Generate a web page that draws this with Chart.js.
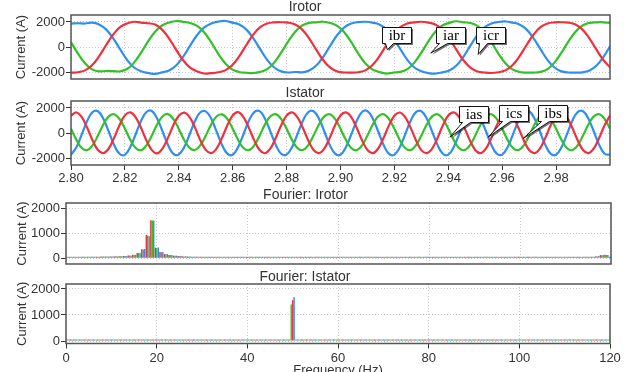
<!DOCTYPE html>
<html>
<head>
<meta charset="utf-8">
<script src="https://cdn.jsdelivr.net/npm/chart.js@4.4.0/dist/chart.umd.min.js"></script>
<style>
  html, body { margin: 0; padding: 0; background: #fff; overflow: hidden; }
  .panel { position: absolute; left: 0; }
  canvas { display: block; }
</style>
</head>
<body>
<div class="panel" style="top:0"><canvas id="irotor" width="633" height="84"></canvas></div>
<div class="panel" style="top:84px"><canvas id="istator" width="633" height="102"></canvas></div>
<div class="panel" style="top:185px"><canvas id="fftRotor" width="633" height="84"></canvas></div>
<div class="panel" style="top:268px"><canvas id="fftStator" width="633" height="110"></canvas></div>
<script>
// ---- data ----
const timeTicks = [2.80, 2.82, 2.84, 2.86, 2.88, 2.90, 2.92, 2.94, 2.96, 2.98];
const currentTicks = [-2000, 0, 2000];
const fftTicks = [0, 1000, 2000];
const freqTicks = [0, 20, 40, 60, 80, 100, 120];

// rotor currents, sampled every 2.6 ms from 2.800 s
const rotorStart = 2.8, rotorStep = 0.0026;
const icr = [410, -478, -1241, -1724, -1880, -1850, -1860, -1880, -1698, -1191, -410, 478, 1241, 1724, 1960, 2080, 2010, 1921, 1698, 1191,
  410, -478, -1241, -1724, -1930, -1990, -2010, -1921, -1698, -1191, -410, 478, 1241, 1724, 1930, 1977, 2020, 1921, 1698, 1191,
  410, -478, -1241, -1724, -1930, -2050, -1976, -1921, -1698, -1191, -410, 478, 1241, 1724, 1930, 2060, 1976, 1921, 1698, 1191,
  410, -478, -1241, -1724, -1930, -1977, -1976, -1921, -1698, -1191, -410, 478, 1241, 1724, 1930, 1977, 1976, 1921];
const ibr = [1878, 1900, 1880, 1955, 1812, 1422, 734, -139, -976, -1576, -1878, -2000, -2080, -1955, -1812, -1422, -734, 139, 976, 1576,
  1878, 2030, 2080, 1955, 1812, 1422, 734, -139, -976, -1576, -1878, -1969, -1930, -1955, -1812, -1422, -734, 139, 976, 1576,
  1878, 1990, 2020, 1955, 1812, 1422, 734, -139, -976, -1576, -1878, -2020, -2060, -1955, -1812, -1422, -734, 139, 976, 1576,
  1878, 2000, 2040, 1955, 1812, 1422, 734, -139, -976, -1576, -1878, -1969, -1980, -1955, -1812, -1422, -734, 139];
const iar = [-1980, -1952, -1802, -1400, -702, 174, 1005, 1593, 1884, 2020, 1950, 1900, 1802, 1400, 702, -174, -1005, -1593, -1884, -2050,
  -2020, -1952, -1802, -1400, -702, 174, 1005, 1593, 1884, 1970, 1980, 1952, 1802, 1400, 702, -174, -1005, -1593, -1884, -1970,
  -1980, -1952, -1802, -1400, -702, 174, 1005, 1593, 1884, 1970, 2020, 1952, 1802, 1400, 702, -174, -1005, -1593, -1884, -1970,
  -2010, -1952, -1802, -1400, -702, 174, 1005, 1593, 1884, 1970, 1980, 1952, 1802, 1400, 702, -174, -1005, -1593];

// stator currents, sampled every 2 ms from 2.800 s
const statorStart = 2.8, statorStep = 0.002;
const ias = [1401, 1647, 1283, 448, -539, -1301, -1547, -1183, -348, 639,
  1420, 1660, 1270, 430, -550, -1310, -1560, -1170, -330, 650,
  1390, 1640, 1290, 460, -530, -1290, -1540, -1190, -360, 630,
  1410, 1670, 1280, 440, -545, -1305, -1555, -1180, -340, 645,
  1400, 1650, 1275, 450, -535, -1295, -1545, -1185, -350, 640,
  1415, 1655, 1285, 445, -540, -1300, -1550, -1175, -345, 635,
  1395, 1645, 1280, 455, -530, -1310, -1540, -1190, -355, 642,
  1405, 1660, 1290, 440, -545, -1295, -1550, -1180, -340, 638,
  1400, 1640, 1280, 450, -540, -1305, -1545, -1185, -350, 645,
  1410, 1650, 1285, 445, -535, -1300, -1550, -1180, -345, 640, 1405];
const ibs = [-1665, -1082, -71, 983, 1676, 1745, 1162, 151, -903, -1596,
  -1680, -1070, -60, 990, 1690, 1760, 1150, 140, -910, -1610,
  -1650, -1090, -80, 975, 1665, 1735, 1170, 160, -895, -1585,
  -1670, -1075, -65, 995, 1680, 1750, 1155, 145, -905, -1600,
  -1660, -1085, -75, 980, 1670, 1740, 1165, 155, -900, -1590,
  -1675, -1080, -70, 985, 1685, 1755, 1160, 150, -910, -1605,
  -1660, -1088, -68, 978, 1672, 1742, 1168, 148, -898, -1592,
  -1668, -1078, -74, 988, 1678, 1748, 1158, 154, -906, -1598,
  -1662, -1084, -70, 982, 1674, 1744, 1164, 150, -902, -1594,
  -1670, -1080, -72, 985, 1680, 1746, 1160, 152, -904, -1598, -1666];
const ics = [366, -505, -1144, -1309, -935, -166, 705, 1344, 1509, 1135,
  380, -495, -1150, -1320, -940, -155, 715, 1355, 1520, 1125,
  355, -515, -1135, -1300, -925, -175, 695, 1335, 1500, 1145,
  370, -500, -1148, -1312, -938, -160, 710, 1350, 1515, 1130,
  362, -508, -1140, -1305, -932, -170, 700, 1340, 1505, 1140,
  372, -502, -1146, -1314, -936, -162, 708, 1348, 1512, 1132,
  360, -510, -1142, -1306, -930, -168, 702, 1342, 1508, 1138,
  368, -504, -1146, -1310, -937, -164, 706, 1346, 1511, 1134,
  364, -506, -1143, -1308, -934, -167, 704, 1343, 1509, 1136,
  367, -503, -1145, -1310, -936, -165, 706, 1345, 1510, 1135, 366];

// Fourier magnitudes, 1 Hz bins 0..120
const freqs = Array.from({ length: 121 }, (_, i) => i);
const fftRotorA = [55, 55, 55, 56, 57, 58, 60, 62, 64, 66,
  68, 72, 78, 88, 105, 135, 205, 360, 930, 1510,
  420, 245, 165, 125, 100, 85, 75, 68, 63, 60,
  58, 57, 56, 56, 55, 55, 55, 55, 55, 55,
  55, 55, 55, 55, 55, 55, 55, 55, 55, 55,
  55, 55, 55, 55, 55, 55, 55, 55, 55, 55,
  55, 55, 55, 55, 55, 55, 55, 55, 55, 55,
  55, 55, 55, 55, 55, 55, 55, 55, 55, 55,
  55, 55, 55, 55, 55, 55, 55, 55, 55, 55,
  55, 55, 55, 55, 55, 55, 55, 55, 55, 55,
  55, 55, 55, 55, 55, 55, 55, 55, 55, 55,
  55, 55, 55, 55, 55, 55, 58, 75, 125, 135, 60];
const fftRotorB = [55, 55, 56, 56, 57, 58, 60, 62, 65, 67,
  70, 74, 80, 90, 108, 140, 212, 350, 910, 1500,
  400, 240, 160, 122, 98, 83, 73, 66, 62, 59,
  57, 56, 56, 55, 55, 55, 55, 55, 55, 55,
  55, 55, 55, 55, 55, 55, 55, 55, 55, 55,
  55, 55, 55, 55, 55, 55, 55, 55, 55, 55,
  55, 55, 55, 55, 55, 55, 55, 55, 55, 55,
  55, 55, 55, 55, 55, 55, 55, 55, 55, 55,
  55, 55, 55, 55, 55, 55, 55, 55, 55, 55,
  55, 55, 55, 55, 55, 55, 55, 55, 55, 55,
  55, 55, 55, 55, 55, 55, 55, 55, 55, 55,
  55, 55, 55, 55, 55, 55, 56, 65, 115, 130, 58];
const fftRotorC = [55, 55, 55, 56, 57, 58, 60, 62, 64, 66,
  68, 71, 77, 86, 102, 132, 195, 370, 880, 1505,
  430, 250, 170, 128, 102, 86, 76, 68, 63, 60,
  58, 57, 56, 56, 55, 55, 55, 55, 55, 55,
  55, 55, 55, 55, 55, 55, 55, 55, 55, 55,
  55, 55, 55, 55, 55, 55, 55, 55, 55, 55,
  55, 55, 55, 55, 55, 55, 55, 55, 55, 55,
  55, 55, 55, 55, 55, 55, 55, 55, 55, 55,
  55, 55, 55, 55, 55, 55, 55, 55, 55, 55,
  55, 55, 55, 55, 55, 55, 55, 55, 55, 55,
  55, 55, 55, 55, 55, 55, 55, 55, 55, 55,
  55, 55, 55, 55, 55, 55, 58, 85, 130, 125, 62];
const fftStatorA = [55, 55, 55, 55, 55, 55, 55, 55, 55, 55,
  55, 55, 55, 55, 55, 55, 55, 55, 55, 55,
  55, 55, 55, 55, 55, 55, 55, 55, 55, 55,
  55, 55, 55, 55, 55, 55, 55, 55, 55, 55,
  55, 55, 55, 55, 55, 55, 55, 55, 55, 55,
  1570, 55, 55, 55, 55, 55, 55, 55, 55, 55,
  55, 55, 55, 55, 55, 55, 55, 55, 55, 55,
  55, 55, 55, 55, 55, 55, 55, 55, 55, 55,
  55, 55, 55, 55, 55, 55, 55, 55, 55, 55,
  55, 55, 55, 55, 55, 55, 55, 55, 55, 55,
  55, 55, 55, 55, 55, 55, 55, 55, 55, 55,
  55, 55, 55, 55, 55, 55, 55, 55, 55, 55, 55];
const fftStatorB = [55, 55, 55, 55, 55, 55, 55, 55, 55, 55,
  55, 55, 55, 55, 55, 55, 55, 55, 55, 55,
  55, 55, 55, 55, 55, 55, 55, 55, 55, 55,
  55, 55, 55, 55, 55, 55, 55, 55, 55, 55,
  55, 55, 55, 55, 55, 55, 55, 55, 55, 55,
  1690, 55, 55, 55, 55, 55, 55, 55, 55, 55,
  55, 55, 55, 55, 55, 55, 55, 55, 55, 55,
  55, 55, 55, 55, 55, 55, 55, 55, 55, 55,
  55, 55, 55, 55, 55, 55, 55, 55, 55, 55,
  55, 55, 55, 55, 55, 55, 55, 55, 55, 55,
  55, 55, 55, 55, 55, 55, 55, 55, 55, 55,
  55, 55, 55, 55, 55, 55, 55, 55, 55, 55, 55];
const fftStatorC = [55, 55, 55, 55, 55, 55, 55, 55, 55, 55,
  55, 55, 55, 55, 55, 55, 55, 55, 55, 55,
  55, 55, 55, 55, 55, 55, 55, 55, 55, 55,
  55, 55, 55, 55, 55, 55, 55, 55, 55, 55,
  55, 55, 55, 55, 55, 55, 55, 55, 55, 55,
  1400, 55, 55, 55, 55, 55, 55, 55, 55, 55,
  55, 55, 55, 55, 55, 55, 55, 55, 55, 55,
  55, 55, 55, 55, 55, 55, 55, 55, 55, 55,
  55, 55, 55, 55, 55, 55, 55, 55, 55, 55,
  55, 55, 55, 55, 55, 55, 55, 55, 55, 55,
  55, 55, 55, 55, 55, 55, 55, 55, 55, 55,
  55, 55, 55, 55, 55, 55, 55, 55, 55, 55, 55];

// ---- look ----
const RED = '#f0303c', GREEN = '#33c12a', BLUE = '#2e8ef5';
const FONT = "'Liberation Sans', Arial, sans-serif";
Chart.defaults.font.family = FONT;
Chart.defaults.color = '#333';

// callout labels: tip in data units, box offset in px
const rotorNotes = [
  { text: 'ibr', t: 2.9174, v: -180, dx: -5, dy: -23 },
  { text: 'iar', t: 2.9335, v: -447, dx: 5, dy: -26 },
  { text: 'icr', t: 2.9511, v: -549, dx: -2, dy: -27 }
];
const statorNotes = [
  { text: 'ias', t: 2.9406, v: -290, dx: 9, dy: -31 },
  { text: 'ics', t: 2.9548, v: -290, dx: 11, dy: -32 },
  { text: 'ibs', t: 2.9678, v: -392, dx: 15, dy: -33 }
];

const framePlugin = {
  id: 'frame',
  afterDatasetsDraw(chart) {
    const { ctx, chartArea: a } = chart;
    ctx.save();
    ctx.strokeStyle = '#555';
    ctx.lineWidth = 1.5;
    ctx.strokeRect(a.left, a.top, a.right - a.left, a.bottom - a.top);
    ctx.restore();
  }
};

const calloutPlugin = {
  id: 'callouts',
  afterDraw(chart, args, opts) {
    const notes = opts.notes;
    if (!notes) return;
    const { ctx } = chart;
    const xs = chart.scales.x, ys = chart.scales.y;
    notes.forEach(n => {
      const px = xs.getPixelForValue(n.t), py = ys.getPixelForValue(n.v);
      const w = 29, h = 16;
      const bx = Math.round(px + n.dx) + 0.5, by = Math.round(py + n.dy) + 0.5;
      ctx.save();
      ctx.beginPath();
      ctx.moveTo(bx, by);
      ctx.lineTo(bx + w, by);
      ctx.lineTo(bx + w, by + h);
      ctx.lineTo(bx + 11, by + h);
      ctx.lineTo(px, py);
      ctx.lineTo(bx + 3, by + h);
      ctx.lineTo(bx, by + h);
      ctx.closePath();
      ctx.shadowColor = 'rgba(0,0,0,0.55)';
      ctx.shadowOffsetX = 1.5;
      ctx.shadowOffsetY = 1.5;
      ctx.fillStyle = '#fff';
      ctx.fill();
      ctx.shadowColor = 'transparent';
      ctx.strokeStyle = '#111';
      ctx.lineWidth = 1;
      ctx.stroke();
      ctx.fillStyle = '#000';
      ctx.font = "15px 'Liberation Serif', 'Times New Roman', serif";
      ctx.textAlign = 'center';
      ctx.textBaseline = 'middle';
      ctx.fillText(n.text, bx + w / 2, by + h / 2 + 1);
      ctx.restore();
    });
  }
};

function xTimeAxis(showLabels, height) {
  return {
    type: 'linear', min: 2.8, max: 3.0,
    afterBuildTicks: s => { s.ticks = timeTicks.map(v => ({ value: v })); },
    afterFit: s => { s.height = height; },
    border: { display: false, dash: [1, 2] },
    grid: { color: '#c8c8c8', drawTicks: showLabels, tickLength: 5, tickColor: '#333', tickBorderDash: [] },
    ticks: { display: showLabels, padding: 1, maxRotation: 0, autoSkip: false, font: { size: 13 },
      callback: v => v.toFixed(2) }
  };
}

function xFreqAxis(showLabels, height) {
  return {
    type: 'linear', min: 0, max: 120, offset: false,
    afterBuildTicks: s => { s.ticks = freqTicks.map(v => ({ value: v })); },
    afterFit: s => { s.height = height; },
    border: { display: false, dash: [1, 2] },
    grid: { offset: false, color: '#c8c8c8', drawTicks: showLabels, tickLength: 5, tickColor: '#333', tickBorderDash: [] },
    ticks: { display: showLabels, padding: 2, maxRotation: 0, autoSkip: false, font: { size: 13 },
      callback: v => String(v) },
    title: { display: showLabels, text: 'Frequency (Hz)', font: { size: 13, lineHeight: '14px' }, padding: { top: 0, bottom: 1 } }
  };
}

function yAxis(min, max, ticks, width, titlePad) {
  return {
    min: min, max: max,
    afterBuildTicks: s => { s.ticks = ticks.map(v => ({ value: v })); },
    afterFit: s => { s.width = width; s.paddingTop = 0; s.paddingBottom = 0; },
    border: { display: false, dash: [1, 2] },
    grid: { color: '#c8c8c8', tickLength: 5, tickColor: '#333', tickBorderDash: [] },
    ticks: { padding: 1, font: { size: 13 }, callback: v => String(v) },
    title: { display: true, text: 'Current (A)', font: { size: 13, lineHeight: '14px' }, padding: { top: titlePad, bottom: 0 } }
  };
}

function titleOpts(text, top, bottom) {
  return { display: true, text: text, color: '#333',
    font: { size: 14, weight: 'normal', lineHeight: '14px' }, padding: { top: top, bottom: bottom } };
}

function series(start, step, values) {
  return values.map((v, i) => ({ x: +(start + i * step).toFixed(4), y: v }));
}

function lineSet(label, color, start, step, values) {
  return { label: label, data: series(start, step, values), borderColor: color, borderWidth: 2.2,
    pointRadius: 0, tension: 0.4, fill: false };
}

function barSet(label, color, values) {
  return { label: label, data: values.map((v, i) => ({ x: freqs[i], y: v })), backgroundColor: color,
    borderWidth: 0, barPercentage: 1.0, categoryPercentage: 0.95 };
}

const common = {
  responsive: false, animation: false, devicePixelRatio: 1,
  events: []
};

new Chart(document.getElementById('irotor'), {
  type: 'line',
  data: { datasets: [
    lineSet('iar', RED, rotorStart, rotorStep, iar),
    lineSet('icr', GREEN, rotorStart, rotorStep, icr),
    lineSet('ibr', BLUE, rotorStart, rotorStep, ibr)
  ] },
  options: Object.assign({}, common, {
    layout: { padding: { left: 0, right: 23, top: 0, bottom: 0 } },
    plugins: { legend: { display: false }, tooltip: { enabled: false },
      title: titleOpts('Irotor', 0, 1), callouts: { notes: rotorNotes } },
    scales: { x: xTimeAxis(false, 5), y: yAxis(-2480, 2550, currentTicks, 71, 14) }
  }),
  plugins: [framePlugin, calloutPlugin]
});

new Chart(document.getElementById('istator'), {
  type: 'line',
  data: { datasets: [
    lineSet('ias', RED, statorStart, statorStep, ias),
    lineSet('ics', GREEN, statorStart, statorStep, ics),
    lineSet('ibs', BLUE, statorStart, statorStep, ibs)
  ] },
  options: Object.assign({}, common, {
    layout: { padding: { left: 0, right: 23, top: 0, bottom: 0 } },
    plugins: { legend: { display: false }, tooltip: { enabled: false },
      title: titleOpts('Istator', 2, 1), callouts: { notes: statorNotes } },
    scales: { x: xTimeAxis(true, 21), y: yAxis(-2480, 2550, currentTicks, 71, 14) }
  }),
  plugins: [framePlugin, calloutPlugin]
});

new Chart(document.getElementById('fftRotor'), {
  type: 'bar',
  data: { datasets: [
    barSet('a', RED, fftRotorA),
    barSet('b', GREEN, fftRotorB),
    barSet('c', BLUE, fftRotorC)
  ] },
  options: Object.assign({}, common, {
    layout: { padding: { left: 0, right: 22, top: 0, bottom: 0 } },
    plugins: { legend: { display: false }, tooltip: { enabled: false },
      title: titleOpts('Fourier: Irotor', 3, 1) },
    scales: { x: xFreqAxis(false, 5), y: yAxis(-230, 2200, fftTicks, 66, 15) }
  }),
  plugins: [framePlugin]
});

new Chart(document.getElementById('fftStator'), {
  type: 'bar',
  data: { datasets: [
    barSet('c', GREEN, fftStatorC),
    barSet('a', RED, fftStatorA),
    barSet('b', BLUE, fftStatorB)
  ] },
  options: Object.assign({}, common, {
    layout: { padding: { left: 0, right: 23, top: 0, bottom: 0 } },
    plugins: { legend: { display: false }, tooltip: { enabled: false },
      title: titleOpts('Fourier: Istator', 2, 0) },
    scales: { x: xFreqAxis(true, 34.5), y: yAxis(-95, 2190, fftTicks, 66, 15) }
  }),
  plugins: [framePlugin]
});
</script>
</body>
</html>
